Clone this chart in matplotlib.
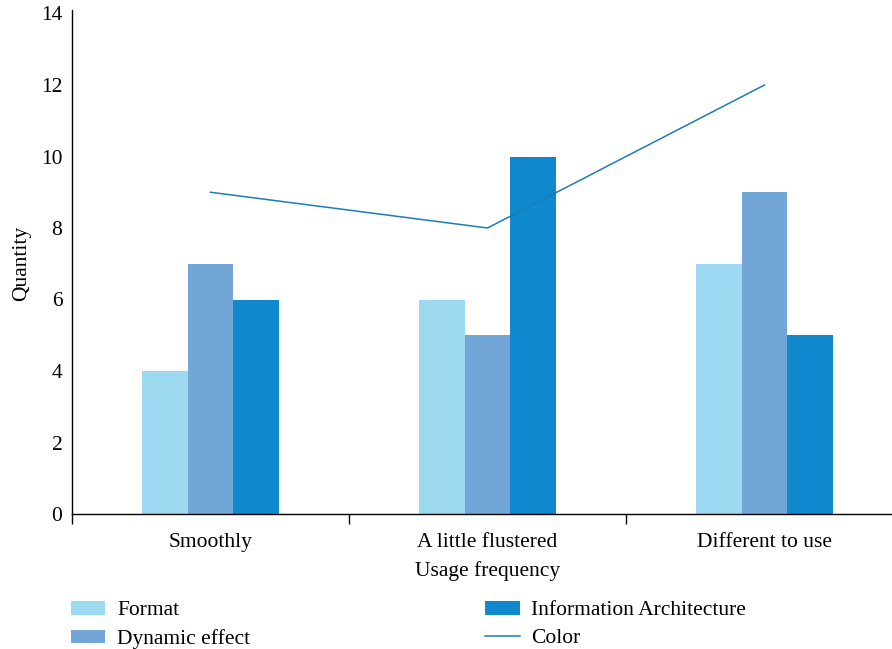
import numpy as np
import matplotlib
matplotlib.use("Agg")
from matplotlib import pyplot as plt

categories = ["Smoothly", "A little flustered", "Different to use"]
format_vals = [4, 6, 7]
dynamic_vals = [7, 5, 9]
info_vals = [6, 10, 5]
color_vals = [9, 8, 12]

plt.rcParams['font.family'] = ['Liberation Serif', 'DejaVu Serif']

fig = plt.figure(figsize=(8.92, 6.49), dpi=100)
ax = fig.add_axes([72/892, 135/649, (903 - 72)/892, (514 - 13.5)/649])

x = np.arange(len(categories))
w = 0.166
ax.bar(x - w, format_vals, w, color='#9ddaf2', label='Format')
ax.bar(x, dynamic_vals, w, color='#72a6d7', label='Dynamic effect')
ax.bar(x + w, info_vals, w, color='#0f88cd', label='Information Architecture')
ax.plot(x, color_vals, color='#1a7db6', lw=1.1, label='Color')

ax.set_xlim(-0.5, 2.5)
ax.set_ylim(0, 14)
ax.set_yticks(range(0, 15, 2))
ax.set_xticks(x)
ax.set_xticklabels(categories)
ax.set_xticks([-0.5, 0.5, 1.5], minor=True)
ax.tick_params(axis='x', which='major', length=0, labelsize=15.5, pad=14)
ax.tick_params(axis='x', which='minor', length=7, width=1, direction='out')
ax.tick_params(axis='y', length=0, labelsize=15.5, pad=7)
for s in ['top', 'right']:
    ax.spines[s].set_visible(False)
ax.spines['left'].set_bounds(0, 14.1)
ax.spines['left'].set_linewidth(1)
ax.spines['bottom'].set_linewidth(1)
ax.set_xlabel('Usage frequency', fontsize=15.5, labelpad=6)
ax.set_ylabel('Quantity', fontsize=15.5, labelpad=7)

h, l = ax.get_legend_handles_labels()
order = [1, 2, 3, 0]
fig.legend([h[i] for i in order], [l[i] for i in order], ncol=2, loc='upper left',
           bbox_to_anchor=(71/892, 1 - 601/649), frameon=False, fontsize=15.5,
           handlelength=1.6, handleheight=0.6, handletextpad=0.55,
           columnspacing=10.9, labelspacing=0.4, borderaxespad=0, borderpad=0)

fig.savefig('out.png', dpi=100)
